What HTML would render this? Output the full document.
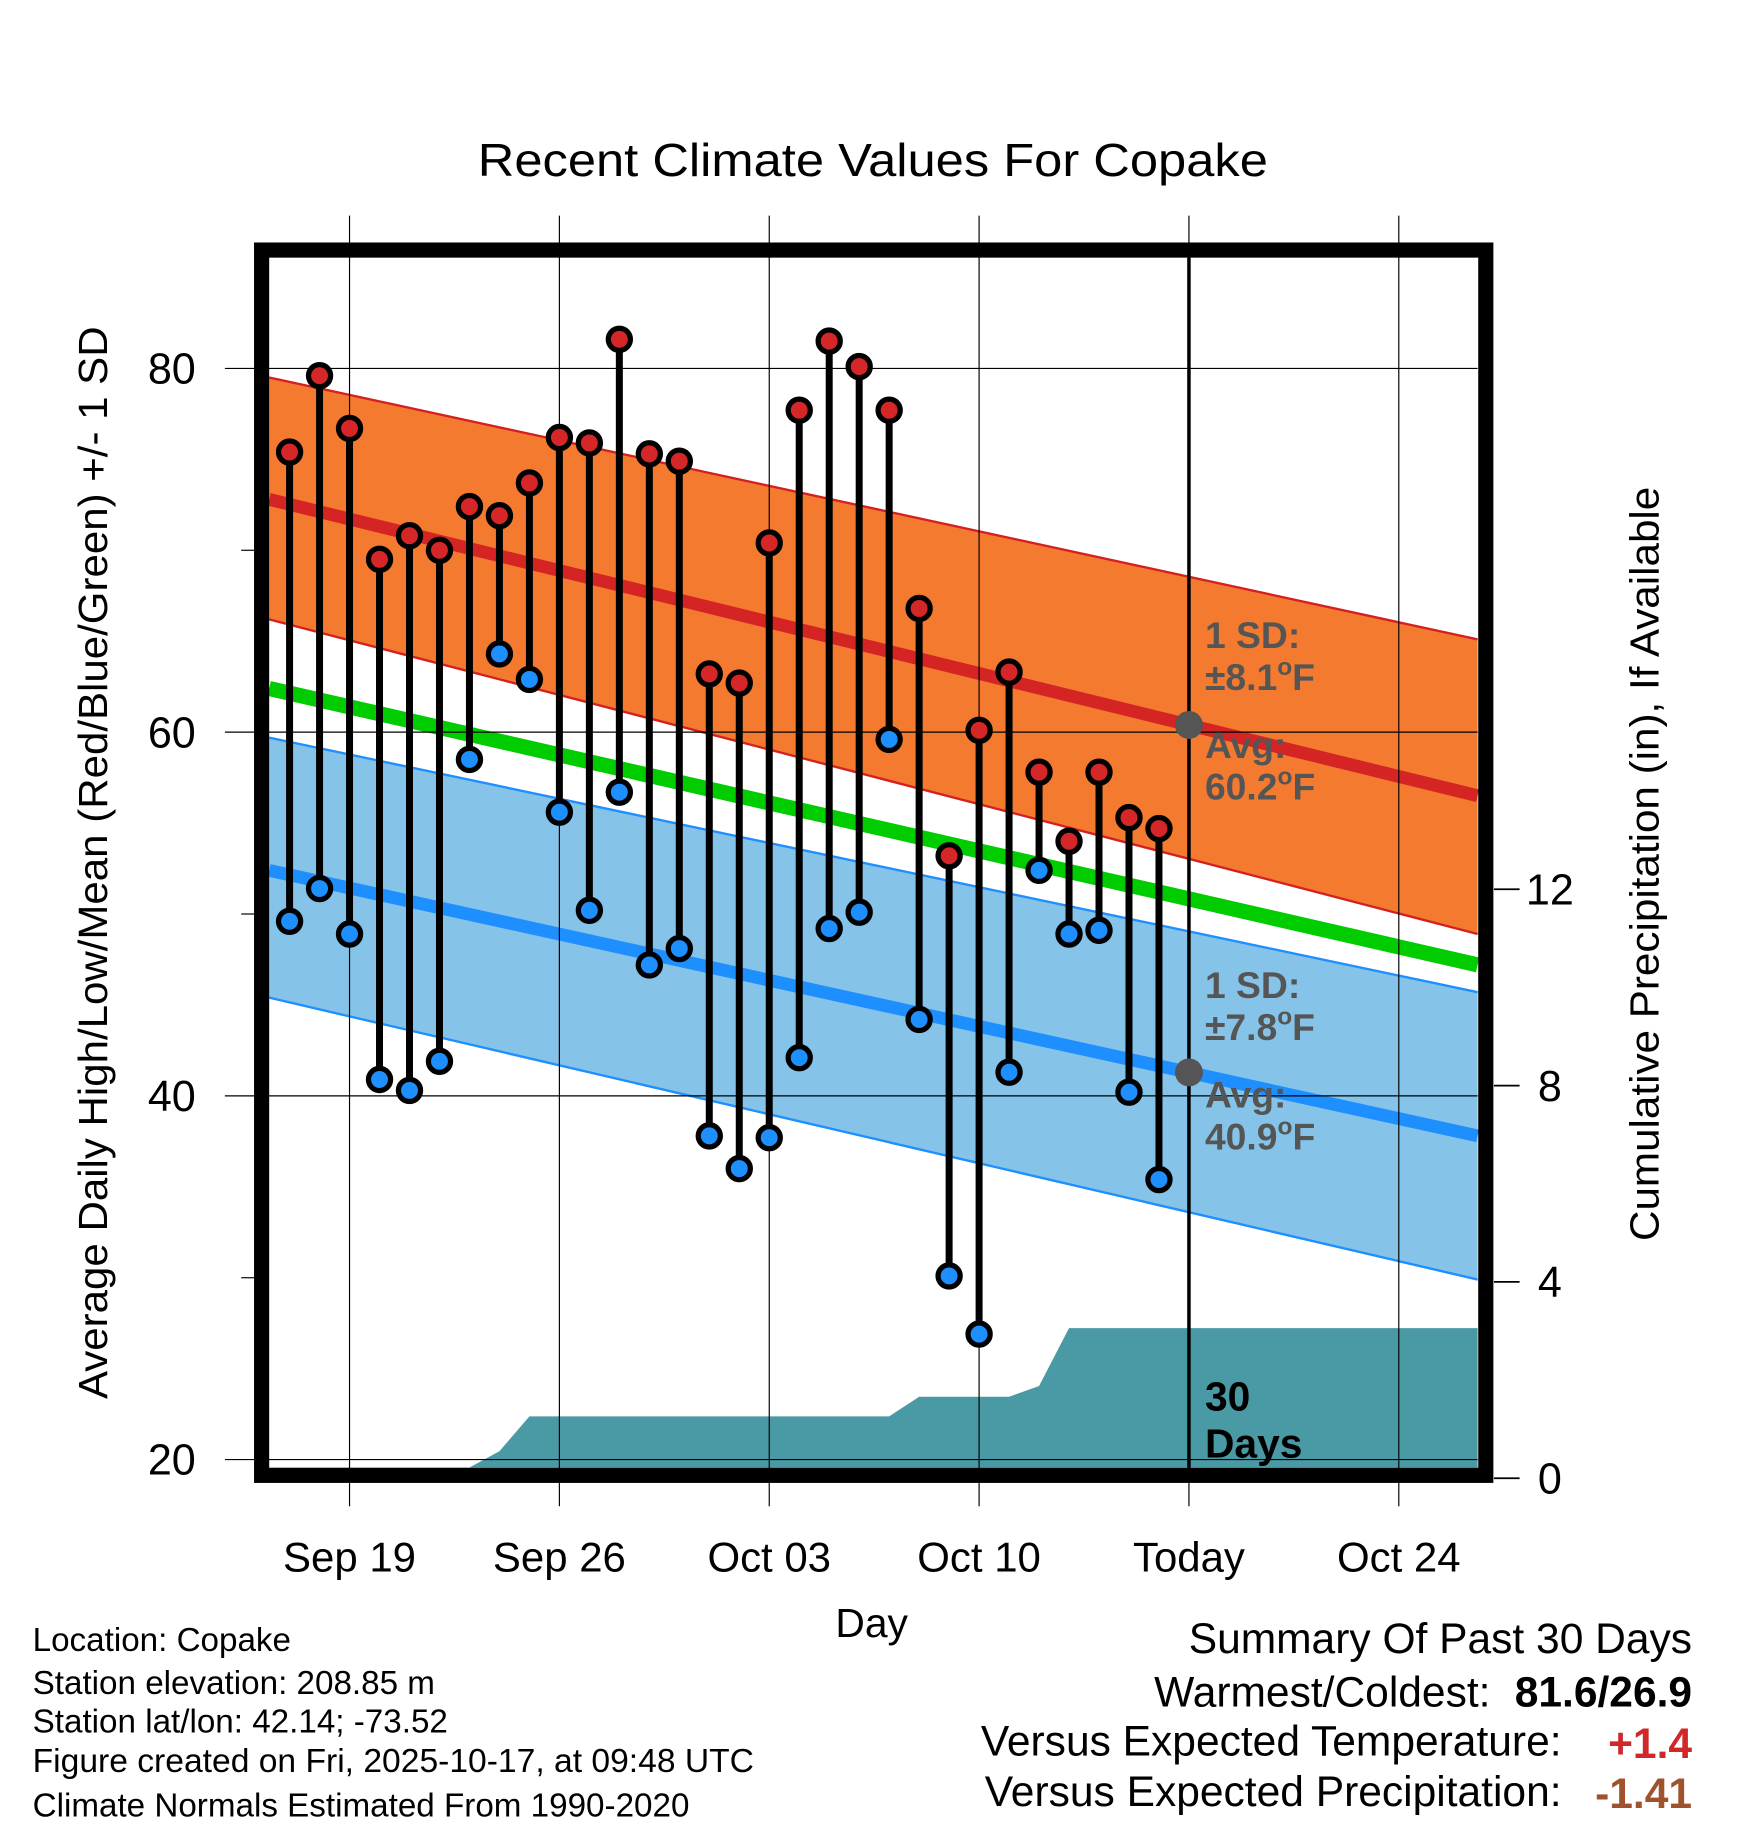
<!DOCTYPE html>
<html><head><meta charset="utf-8"><style>
html,body{margin:0;padding:0;background:#fff;}
svg{display:block;font-family:"Liberation Sans",Arial,sans-serif;}
</style></head><body>
<svg id="chart" width="1748" height="1828" viewBox="0 0 1500 1568" preserveAspectRatio="none" xmlns="http://www.w3.org/2000/svg">
<g id="plot"></g>
<text x="749" y="151" font-size="40" text-anchor="middle" textLength="678" lengthAdjust="spacingAndGlyphs">Recent Climate Values For Copake</text>
<text transform="translate(92,740) rotate(-90)" font-size="35" text-anchor="middle" textLength="920" lengthAdjust="spacingAndGlyphs">Average Daily High/Low/Mean (Red/Blue/Green) +/- 1 SD</text>
<text transform="translate(1423,741) rotate(-90)" font-size="35" text-anchor="middle" textLength="647" lengthAdjust="spacingAndGlyphs">Cumulative Precipitation (in), If Available</text>
<text x="748" y="1404" font-size="35" text-anchor="middle">Day</text>
<g font-size="28.5">
<text x="28" y="1416">Location: Copake</text>
<text x="28" y="1453">Station elevation: 208.85 m</text>
<text x="28" y="1486">Station lat/lon: 42.14; -73.52</text>
<text x="28" y="1520" textLength="619" lengthAdjust="spacingAndGlyphs">Figure created on Fri, 2025-10-17, at 09:48 UTC</text>
<text x="28" y="1558">Climate Normals Estimated From 1990-2020</text>
</g>
<g font-size="36.5">
<text x="1452" y="1418" text-anchor="end">Summary Of Past 30 Days</text>
<text x="1279" y="1464" text-anchor="end">Warmest/Coldest:</text>
<text x="1452" y="1464" text-anchor="end" font-weight="bold">81.6/26.9</text>
<text x="1340" y="1506" text-anchor="end">Versus Expected Temperature:</text>
<text x="1452" y="1508" text-anchor="end" font-weight="bold" fill="#d02828">+1.4</text>
<text x="1340" y="1549" text-anchor="end">Versus Expected Precipitation:</text>
<text x="1452" y="1551" text-anchor="end" font-weight="bold" fill="#a0522d">-1.41</text>
</g>
</svg>
<script>
// Data: days offset from Sep 19
const dayOffsets = [-2,-1,0,1,2,3,4,5,6,7,8,9,10,11,12,13,14,15,16,17,18,19,20,21,22,23,24,25,26,27];
const highs = [75.4,79.6,76.7,69.5,70.8,70.0,72.4,71.9,73.7,76.2,75.9,81.6,75.3,74.9,63.2,62.7,70.4,77.7,81.5,80.1,77.7,66.8,53.2,60.1,63.3,57.8,54.0,57.8,55.3,54.7];
const lows = [49.6,51.4,48.9,40.9,40.3,41.9,58.5,64.3,62.9,55.6,50.2,56.7,47.2,48.1,37.8,36.0,37.7,42.1,49.2,50.1,59.6,44.2,30.1,26.9,41.3,52.4,48.9,49.1,40.2,35.4];
const precip = [0,0,0,0,0,0,0.22,0.55,1.26,1.26,1.26,1.26,1.26,1.26,1.26,1.26,1.26,1.26,1.26,1.26,1.26,1.66,1.66,1.66,1.66,1.88,3.06,3.06,3.06,3.06];
// normals at left edge / right edge
const normalHigh = [72.8,56.5];
const normalHighUpper = [79.5,65.1];
const normalHighLower = [66.2,48.9];
const normalLow = [52.4,37.8];
const normalLowUpper = [59.7,45.7];
const normalLowLower = [45.4,29.9];
const normalMean = [62.4,47.2];
const xTickDays = [0,7,14,21,28,35];
const xTickLabels = ["Sep 19","Sep 26","Oct 03","Oct 10","Today","Oct 24"];
const yTicks = [20,40,60,80];
const yMinorTicks = [30,50,70];
const y2Ticks = [0,4,8,12];
const todayOffset = 28;

const L=231,R=1268,T=221,B=1259;
const dMin=-2.68,dMax=37.63;
const x = d => L + (d-dMin)/(dMax-dMin)*(R-L);
const y = t => 316 + (80-t)*15.6;
const yp = p => 1268 - p*42.1;
const NS="http://www.w3.org/2000/svg";
const g=document.getElementById('plot');
function mk(tag,at,parent){const e=document.createElementNS(NS,tag);for(const k in at)e.setAttribute(k,at[k]);(parent||g).appendChild(e);return e;}
function band(up,lo,fill,stroke,name){
  const e=mk('polygon',{points:`${L},${y(up[0])} ${R},${y(up[1])} ${R},${y(lo[1])} ${L},${y(lo[0])}`,fill:fill});
  
  
  [up,lo].forEach(a=>{const l=mk('line',{x1:L,y1:y(a[0]),x2:R,y2:y(a[1]),stroke:stroke,'stroke-width':2});
    
    });
}
function line(a,color,w,name){const l=mk('line',{x1:L,y1:y(a[0]),x2:R,y2:y(a[1]),stroke:color,'stroke-width':w});
  
  }
band(normalHighUpper,normalHighLower,'#f47a30','#d42020','high-sd-band');
band(normalLowUpper,normalLowLower,'#86c3e8','#1e8fff','low-sd-band');
line(normalHigh,'#d42424',11,'normal-high-line');
line(normalLow,'#1e8fff',11,'normal-low-line');
line(normalMean,'#00cc00',13,'normal-mean-line');
// precip area
let pts=`${L},${yp(0)} `;
dayOffsets.forEach((d,i)=>{pts+=`${x(d)},${yp(precip[i])} `;});
pts+=`${R},${yp(precip[precip.length-1])} ${R},${B} ${L},${B}`;
const pa=mk('polygon',{points:pts,fill:'#4a9aa5'});


// grid
xTickDays.forEach((d,i)=>{const l=mk('line',{x1:x(d),y1:185,x2:x(d),y2:1292,stroke:'#000','stroke-width':1});
  
  
  const t=mk('text',{x:x(d),y:1348,'font-size':36,'text-anchor':'middle'});t.textContent=xTickLabels[i];
  
  });
yTicks.forEach(v=>{const l=mk('line',{x1:193,y1:y(v),x2:R,y2:y(v),stroke:'#000','stroke-width':1});
  
  
  const t=mk('text',{x:168,y:y(v)+13,'font-size':37,'text-anchor':'end'});t.textContent=v;
  
  });
yMinorTicks.forEach(v=>{const l=mk('line',{x1:207,y1:y(v),x2:218,y2:y(v),stroke:'#000','stroke-width':1});
  
  });
y2Ticks.forEach(v=>{const l=mk('line',{x1:1282,y1:yp(v),x2:1304,y2:yp(v),stroke:'#000','stroke-width':1.5});
  
  
  const t=mk('text',{x:1330,y:yp(v)+13,'font-size':37,'text-anchor':'middle'});t.textContent=v;
  
  });
// today line
const tl=mk('line',{x1:x(todayOffset),y1:T,x2:x(todayOffset),y2:B,stroke:'#000','stroke-width':3});


// stems and dots
dayOffsets.forEach((d,i)=>{
  const s=mk('line',{x1:x(d),y1:y(highs[i]),x2:x(d),y2:y(lows[i]),stroke:'#000','stroke-width':6});
  
  
});
dayOffsets.forEach((d,i)=>{
  const h=mk('circle',{cx:x(d),cy:y(highs[i]),r:9.5,fill:'#d62728',stroke:'#000','stroke-width':4.5});
  
  
  const lo=mk('circle',{cx:x(d),cy:y(lows[i]),r:9.5,fill:'#1e8fff',stroke:'#000','stroke-width':4.5});
  
  
});
// mean markers at today
const tHigh = normalHigh[0]+(normalHigh[1]-normalHigh[0])*(x(todayOffset)-L)/(R-L);
const tLow = normalLow[0]+(normalLow[1]-normalLow[0])*(x(todayOffset)-L)/(R-L);
[[tHigh,'today-high-normal-marker'],[tLow,'today-low-normal-marker']].forEach(a=>{
  const c=mk('circle',{cx:x(todayOffset),cy:y(a[0]),r:12,fill:'#555'});
  
  
});
// annotation labels
function lab(txt,yy,name,color,sup){
  const t=mk('text',{x:1034,y:yy,'font-size':(color?35:32),'font-weight':'bold',fill:color||'#555'});
  
  
  if(sup){t.appendChild(document.createTextNode(txt));
    const s=mk('tspan',{dy:-13,'font-size':21},t);s.textContent='o';
    const f=mk('tspan',{dy:13},t);f.textContent='F';}
  else t.textContent=txt;
}
lab('1 SD:',556,'high-sd-label');
lab('\u00B18.1',592,'high-sd-value',null,true);
lab('Avg:',650,'high-avg-label');
lab('60.2',686,'high-avg-value',null,true);
lab('1 SD:',856,'low-sd-label');
lab('\u00B17.8',892,'low-sd-value',null,true);
lab('Avg:',950,'low-avg-label');
lab('40.9',986,'low-avg-value',null,true);
lab('30',1210,'days-label','#000');
lab('Days',1250,'days-label-2','#000');
// frame
const fr=mk('rect',{x:224.5,y:214.5,width:1050.5,height:1051,fill:'none',stroke:'#000','stroke-width':13});


</script>
</body></html>
